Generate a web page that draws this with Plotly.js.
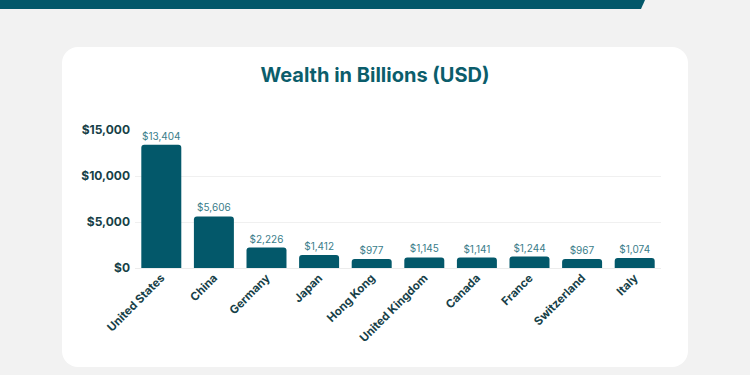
<!DOCTYPE html>
<html><head><meta charset="utf-8">
<script src="https://cdn.plot.ly/plotly-3.0.1.min.js"></script>
<style>
html,body{margin:0;padding:0;width:750px;height:375px;overflow:hidden;background:#f2f2f2;font-family:Inter,sans-serif;}
#topbar{position:absolute;left:0;top:0;width:750px;height:9px;background:#03586a;clip-path:polygon(0 0,645px 0,641px 9px,0 9px);}
#card{position:absolute;left:62px;top:47px;width:626px;height:320px;background:#fff;border-radius:16px;}
#chart{position:absolute;left:0;top:0;width:750px;height:375px;}
</style></head>
<body>
<div id="topbar"></div>
<div id="card"></div>
<div id="chart"></div>
<script>
const countries = ["United States","China","Germany","Japan","Hong Kong","United Kingdom","Canada","France","Switzerland","Italy"];
const wealth = [13404,5606,2226,1412,977,1145,1141,1244,967,1074];
const yTicks = [0,5000,10000,15000];
const yTickLabels = ["$0","$5,000","$10,000","$15,000"];

Plotly.newPlot('chart',[{
  type:'bar', x:countries, y:wealth,
  marker:{color:'#03586a', cornerradius:3},
  texttemplate:'$%{y:,}', textposition:'outside', cliponaxis:false,
  textfont:{family:'Inter', size:10, color:'#3a7d8a'},
  hoverinfo:'none'
}],{
  width:750, height:375,
  paper_bgcolor:'rgba(0,0,0,0)', plot_bgcolor:'rgba(0,0,0,0)',
  margin:{l:135,r:89,t:130,b:107},
  bargap:0.24,
  showlegend:false,
  title:{text:'<b>Wealth in Billions (USD)</b>', x:0.5, xanchor:'center', y:0.8, yref:'container', yanchor:'middle',
    font:{family:'Inter', size:20, color:'#0b5d6b'}},
  xaxis:{tickangle:-45, tickfont:{family:'Inter', size:11.5, color:'#173f48', weight:'bold'}, showgrid:false, zeroline:false, ticks:'', showline:false},
  yaxis:{range:[0,15000], tickvals:yTicks, ticktext:yTickLabels, tickfont:{family:'Inter', size:12, color:'#173f48', weight:'bold'},
    gridcolor:'#f0f0f0', zeroline:true, zerolinecolor:'#ececec', ticks:'', ticklabelstandoff:4}
},{displayModeBar:false, staticPlot:true});
</script>
</body></html>
